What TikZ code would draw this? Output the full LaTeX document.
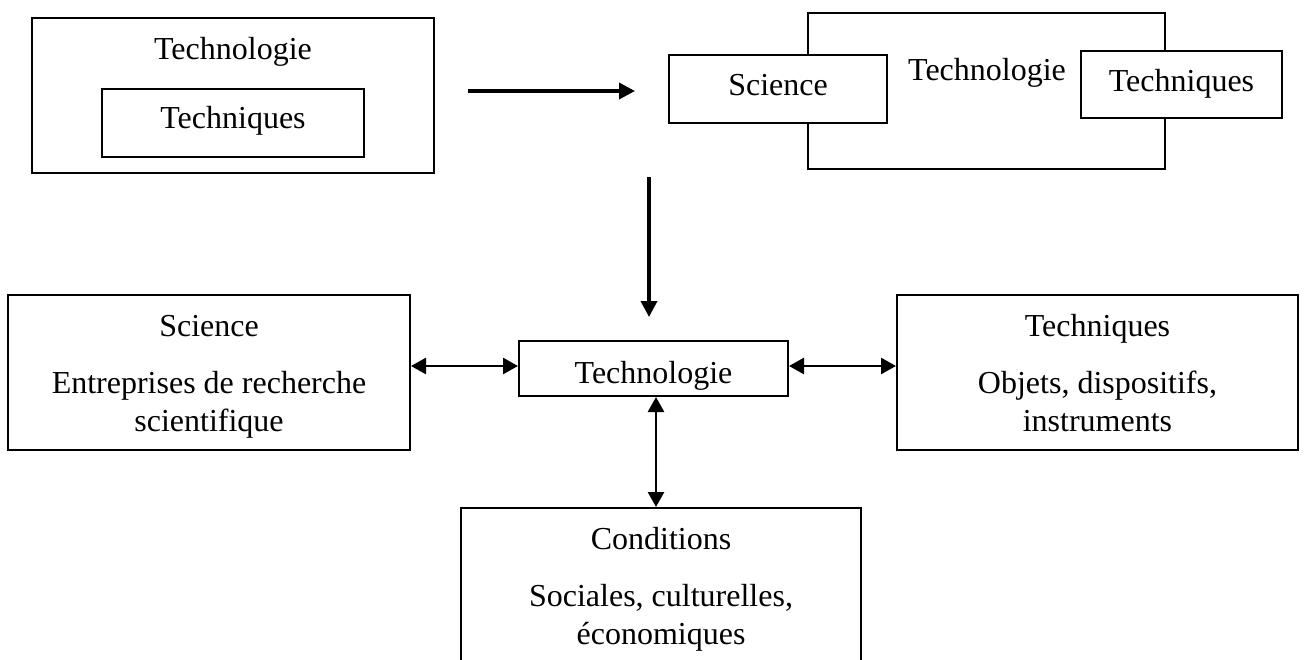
\documentclass[tikz,border=0pt]{standalone}
\usepackage{fontspec}
\setmainfont{Liberation Serif}
\usetikzlibrary{arrows.meta}
\begin{document}
\begin{tikzpicture}[x=1pt,y=-1pt,
  box/.style={draw,line width=2pt,inner sep=0pt,fill=white},
  lbl/.style={font=\fontsize{32}{37}\selectfont,anchor=base,inner sep=0pt},
  onearrow/.style={line width=3.5pt,-{Triangle[length=16pt,width=16pt]}},
  twoarrow/.style={line width=2.7pt,{Triangle[length=15pt,width=16pt]}-{Triangle[length=15pt,width=16pt]}}]
\useasboundingbox (0,0) rectangle (1306,659);
% top left
\node[box,minimum width=402pt,minimum height=155pt] (A) at (233,95.5) {};
\node[lbl] (Atxt) at (233,59) {Technologie};
\node[box,minimum width=262pt,minimum height=68pt] (Ain) at (233,123) {};
\node[lbl] (Aintxt) at (233,128) {Techniques};
% top right
\node[box,minimum width=357pt,minimum height=156pt] (B) at (986.5,91) {};
\node[lbl] (Btxt) at (987,80) {Technologie};
\node[box,minimum width=218pt,minimum height=68pt] (Bs) at (778,89) {};
\node[lbl] (Bstxt) at (778,95) {Science};
\node[box,minimum width=201pt,minimum height=67pt] (Bt) at (1181.5,84.5) {};
\node[lbl] (Bttxt) at (1181.5,91) {Techniques};
% middle row
\node[box,minimum width=269pt,minimum height=55pt] (T) at (653.5,368.5) {};
\node[lbl] (Ttxt) at (653.5,383) {Technologie};
\node[box,minimum width=402pt,minimum height=155pt] (L) at (209,372.5) {};
\node[lbl] (L1) at (209,336) {Science};
\node[lbl] (L2) at (209,393) {Entreprises de recherche};
\node[lbl] (L3) at (209,431) {scientifique};
\node[box,minimum width=401pt,minimum height=155pt] (R) at (1097.5,372.5) {};
\node[lbl] (R1) at (1097.5,336) {Techniques};
\node[lbl] (R2) at (1097.5,393) {Objets, dispositifs,};
\node[lbl] (R3) at (1097.5,431) {instruments};
% bottom
\node[box,minimum width=400pt,minimum height=200pt] (C) at (661,608) {};
\node[lbl] (C1) at (661,549) {Conditions};
\node[lbl] (C2) at (661,606) {Sociales, culturelles,};
\node[lbl] (C3) at (661,644) {économiques};
% connectors
\coordinate (h1) at (468,91);
\coordinate (h2) at (635,91);
\coordinate (v1) at (649,177);
\coordinate (v2) at (649,317);
\coordinate (ylev) at (0,366);
\coordinate (xv) at (656,0);
\draw[onearrow] (h1) -- (h2);
\draw[onearrow] (v1) -- (v2);
\draw[twoarrow] (L.east |- ylev) -- (T.west |- ylev);
\draw[twoarrow] (T.east |- ylev) -- (R.west |- ylev);
\draw[twoarrow] (T.south -| xv) -- (C.north -| xv);
\end{tikzpicture}
\end{document}
